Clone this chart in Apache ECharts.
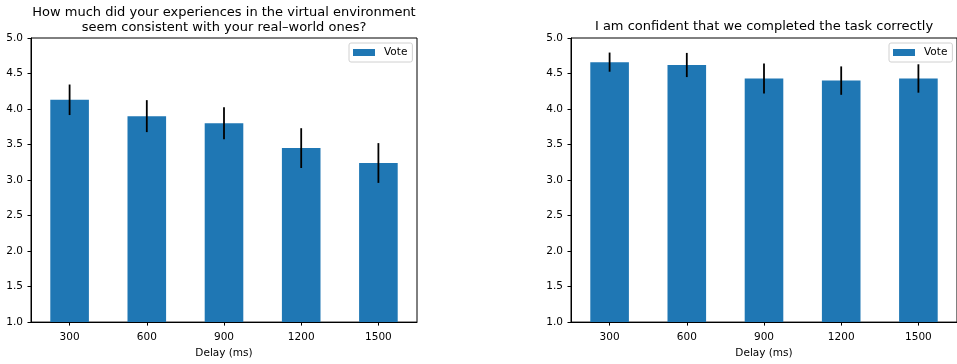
<!DOCTYPE html>
<html>
<head>
<meta charset="utf-8">
<script src="https://cdn.jsdelivr.net/npm/echarts@6/dist/echarts.min.js"></script>
<style>html,body{margin:0;padding:0;background:#fff;}#c{width:957px;height:364px;}</style>
</head>
<body>
<div id="c"></div>
<script>
const categories = ['300', '600', '900', '1200', '1500'];
const yTicks = [1.0, 1.5, 2.0, 2.5, 3.0, 3.5, 4.0, 4.5, 5.0];
const leftTitle = 'How much did your experiences in the virtual environment\nseem consistent with your real–world ones?';
const rightTitle = 'I am confident that we completed the task correctly';
const leftVotes = [4.13, 3.90, 3.80, 3.45, 3.24];
const leftErrors = [0.215, 0.225, 0.225, 0.28, 0.28];
const rightVotes = [4.66, 4.62, 4.43, 4.40, 4.43];
const rightErrors = [0.135, 0.17, 0.21, 0.20, 0.20];

const FONT = 'DejaVu Sans';
const FS = 10.5;
const chart = echarts.init(document.getElementById('c'), null, {renderer: 'canvas'});

function errData(v, e) { return v.map((x, i) => [i, x - e[i], x + e[i]]); }
function errRender(params, api) {
  const lo = api.coord([api.value(0), api.value(1)]);
  const hi = api.coord([api.value(0), api.value(2)]);
  return { type: 'line', shape: {x1: lo[0], y1: lo[1], x2: hi[0], y2: hi[1]},
           style: {stroke: '#000', lineWidth: 1.8} };
}
function xAxisCfg(gi) {
  return {
    type: 'category', gridIndex: gi, data: categories,
    name: 'Delay (ms)', nameLocation: 'middle', nameGap: 25,
    nameTextStyle: {fontFamily: FONT, fontSize: FS, color: '#000'},
    axisLine: {show: true, lineStyle: {color: '#000', width: 1}},
    axisTick: {show: true, alignWithLabel: true, length: 3.5, lineStyle: {color: '#000'}},
    axisLabel: {fontFamily: FONT, fontSize: FS, color: '#000', margin: 10},
    splitLine: {show: false}
  };
}
function yAxisCfg(gi) {
  return {
    type: 'value', gridIndex: gi, min: yTicks[0], max: yTicks[yTicks.length - 1], interval: 0.5,
    axisLine: {show: true, lineStyle: {color: '#000', width: 1}},
    axisTick: {show: true, length: 3.5, lineStyle: {color: '#000'}},
    axisLabel: {fontFamily: FONT, fontSize: FS, color: '#000', margin: 8,
                formatter: v => v.toFixed(1)},
    splitLine: {show: false}
  };
}
function legendCfg(left) {
  return {
    left: left, top: 43, data: ['Vote'], icon: 'rect', itemWidth: 22, itemHeight: 7,
    backgroundColor: 'rgba(255,255,255,0.9)', borderColor: '#d0d0d0', borderWidth: 1, borderRadius: 2,
    padding: [4, 5, 4, 4], selectedMode: false,
    textStyle: {fontFamily: FONT, fontSize: FS, color: '#000', padding: [0, 0, 0, 4]}
  };
}

chart.setOption({
  animation: false,
  title: [
    {text: leftTitle, left: 219, top: 0, textAlign: 'center',
     textStyle: {fontFamily: FONT, fontSize: 13, fontWeight: 'normal', color: '#000', lineHeight: 15}},
    {text: rightTitle, left: 759, top: 14, textAlign: 'center',
     textStyle: {fontFamily: FONT, fontSize: 13, fontWeight: 'normal', color: '#000', lineHeight: 15}}
  ],
  legend: [legendCfg(349), legendCfg(889)],
  grid: [
    {left: 31, top: 38, width: 386, height: 287, show: true, borderColor: '#000', borderWidth: 1, backgroundColor: 'transparent'},
    {left: 571, top: 38, width: 386, height: 287, show: true, borderColor: '#000', borderWidth: 1, backgroundColor: 'transparent'}
  ],
  xAxis: [xAxisCfg(0), xAxisCfg(1)],
  yAxis: [yAxisCfg(0), yAxisCfg(1)],
  series: [
    {name: 'Vote', type: 'bar', xAxisIndex: 0, yAxisIndex: 0, data: leftVotes, barWidth: '50%',
     itemStyle: {color: '#1f77b4'}},
    {name: 'Vote', type: 'bar', xAxisIndex: 1, yAxisIndex: 1, data: rightVotes, barWidth: '50%',
     itemStyle: {color: '#1f77b4'}},
    {name: 'err1', type: 'custom', xAxisIndex: 0, yAxisIndex: 0, data: errData(leftVotes, leftErrors),
     renderItem: errRender, z: 3},
    {name: 'err2', type: 'custom', xAxisIndex: 1, yAxisIndex: 1, data: errData(rightVotes, rightErrors),
     renderItem: errRender, z: 3}
  ]
});
</script>
</body>
</html>
